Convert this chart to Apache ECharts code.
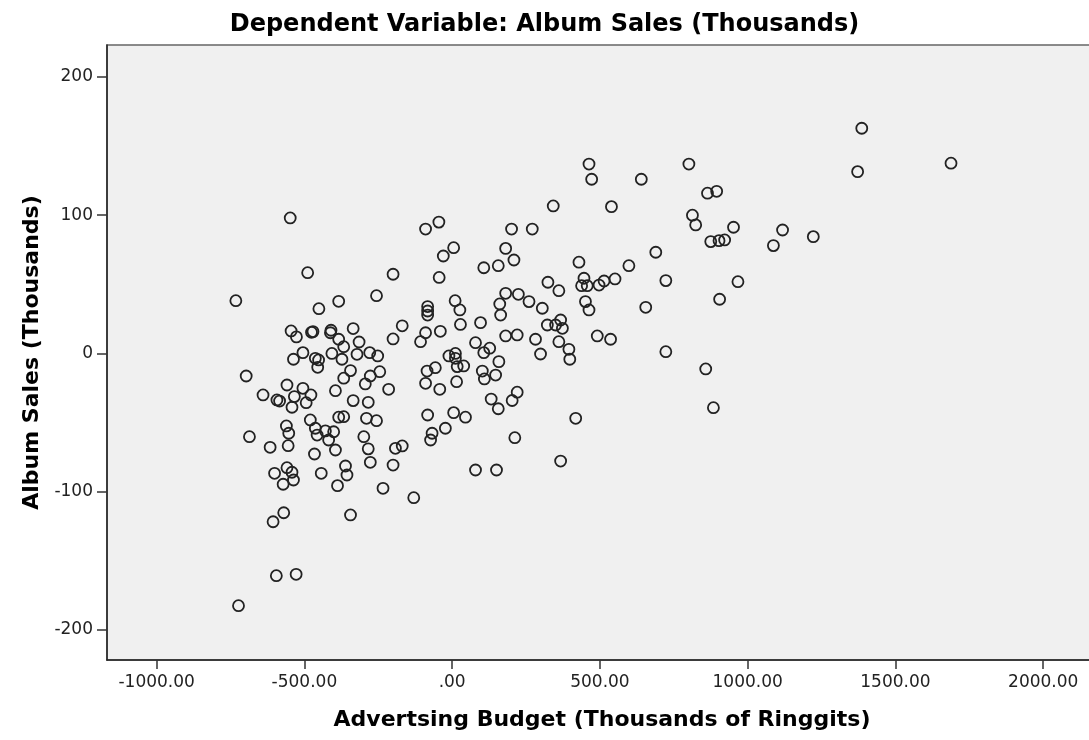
<!DOCTYPE html>
<html>
<head>
<meta charset="utf-8">
<script src="https://cdn.jsdelivr.net/npm/echarts@6/dist/echarts.min.js"></script>
<style>
  html, body { margin: 0; padding: 0; background: #ffffff; }
  #chart { width: 1089px; height: 740px; }
</style>
</head>
<body>
<div id="chart"></div>
<script>
// Advertising budget (thousands of ringgits) for each case
const budget = [
  -548, -90, -45, 5, -30, -489, -200, -44, -732, -256, -384, -451, -83, -83, -83,
  10, 26, 28, -169, -40, -90, -107, -200, -335, -410, -412, -384, -367, -315, -545,
  -527, -476, -471, -505, -537, -463, -452, -455, -407, -373, -322, -279, -252,
  96, 161, 164, 260, 305, 451, 463, 322, 350, 367, 373, 491, 536, 361, 395, 398,
  282, 299, 181, 220, 79, 107, 127, 158, 102, 147, 109, 132, 156, 203, 220,
  11, 11, -11, 17, 39, 15, -85, -57, -90, -42, -83, 5, 45, 418,
  -344, -367, -277, -245, -294, -215, -697, -640, -593, -584, -559, -505, -534, -478,
  -494, -542, -395, -335, -284, -384, -367, -290, -256, -480, -561,
  -686, -616, -553, -555, -463, -457, -429, -401, -418, -395, -466, -299, -284, -277,
  -192, -169, -200, -601, -559, -542, -537, -572, -443, -361, -356, -388, -234, -130,
  -570, -606, -344, -595, -528, -723, -68, -73, -23, 79, 150,
  463, 472, 640, 801, 342, 539, 864, 895, 813, 824, 875, 903, 201, 271, 181, 209,
  107, 156, 429, 598, 689, 723, 905, 655, 324, 361, 446, 438, 457, 497, 514, 551,
  181, 224, 723,
  212, 367, 858, 884,
  1386, 1372, 1688, 952, 922, 1118, 1087, 1222, 967
];

// Album sales (thousands) for the same cases
const sales = [
  98, 90, 95, 76.5, 70.5, 58.4, 57.3, 55, 38.2, 41.8, 37.7, 32.4, 33.9, 30.7, 27.8,
  38.2, 31.5, 21, 20, 16, 15, 8.5, 10.5, 18, 16.8, 15, 10.3, 4.9, 8.3, 16.3,
  12, 15.3, 15.8, 0.6, -4.2, -3.5, -4.7, -10, 0, -4.2, -0.6, 0.6, -1.8,
  22.3, 35.8, 27.8, 37.5, 32.7, 37.5, 31.5, 20.6, 20.6, 24.2, 18.2, 12.7, 10.3, 8.5, 3, -4.2,
  10.3, -0.4, 12.7, 13.4, 7.8, 0.6, 3.8, -5.9, -12.7, -15.6, -18.4, -33, -40, -34, -28,
  0, -3.5, -1.8, -9.5, -9, -20.4, -12.7, -10.3, -21.6, -25.9, -44.5, -42.8, -46.1, -46.9,
  -12.4, -17.9, -16.3, -13.2, -22, -25.9, -16.3, -30, -33.6, -34.4, -22.8, -25.2, -31.2, -30,
  -35.6, -38.9, -26.9, -34.1, -35.3, -46.1, -45.7, -46.9, -48.6, -48.1, -52.4,
  -60.2, -67.9, -57.7, -66.7, -54.1, -59, -56, -56.6, -62.6, -69.8, -72.7, -60.2, -69, -78.7,
  -68.6, -66.9, -80.7, -86.7, -82.6, -85.9, -91.5, -94.6, -86.7, -81.4, -87.9, -95.6, -97.5, -104.3,
  -115.2, -121.7, -116.8, -160.7, -159.7, -182.4, -57.7, -62.6, -54.1, -84.3, -84.3,
  137, 126, 126, 137, 106.7, 106.2, 115.9, 117.3, 100, 93, 80.9, 81.6, 90, 90, 76, 67.6,
  62, 63.5, 66, 63.5, 73.2, 52.7, 39.2, 33.4, 51.5, 45.4, 54.4, 49, 49, 49.5, 52.4, 53.9,
  43.5, 42.8, 1.3,
  -60.9, -77.8, -11.2, -39.2,
  162.9, 131.5, 137.6, 91.3, 82.1, 89.3, 78, 84.5, 51.9
];

const xTickValues = [-1000, -500, 0, 500, 1000, 1500, 2000];
const xTickLabels = ['-1000.00', '-500.00', '.00', '500.00', '1000.00', '1500.00', '2000.00'];
const yTickValues = [-200, -100, 0, 100, 200];
const yTickLabels = ['-200', '-100', '0', '100', '200'];

const chartTitle = 'Dependent Variable: Album Sales (Thousands)';
const xName = 'Advertsing Budget (Thousands of Ringgits)';
const yName = 'Album Sales (Thousands)';

const points = budget.map((x, i) => [x, sales[i]]);

function labelFor(values, labels) {
  return function (v) {
    const i = values.indexOf(v);
    return i >= 0 ? labels[i] : '';
  };
}

const tickFont = { fontFamily: 'DejaVu Sans', fontSize: 17, color: '#222' };
const nameFont = { fontFamily: 'DejaVu Sans', fontWeight: 'bold', fontSize: 22, color: '#000' };

const chart = echarts.init(document.getElementById('chart'), null, { renderer: 'canvas' });
chart.setOption({
  animation: false,
  backgroundColor: '#ffffff',
  title: {
    text: chartTitle,
    left: 'center',
    top: 8,
    textStyle: { fontFamily: 'DejaVu Sans', fontWeight: 'bold', fontSize: 24, color: '#000' }
  },
  // plot panel runs off the right edge of the page
  grid: {
    left: 107,
    top: 45,
    width: 990,
    height: 615,
    containLabel: false,
    outerBoundsMode: 'none',
    show: true,
    backgroundColor: '#f0f0f0',
    borderColor: '#666',
    borderWidth: 1.5
  },
  xAxis: {
    type: 'value',
    min: -1168,
    max: 2182,
    name: xName,
    nameLocation: 'middle',
    nameGap: 49,
    nameTextStyle: nameFont,
    splitLine: { show: false },
    axisLine: { show: true, onZero: false, lineStyle: { color: '#222', width: 1.5 } },
    axisTick: { show: true, customValues: xTickValues, length: 9, lineStyle: { color: '#333', width: 1.5 } },
    axisLabel: Object.assign({ customValues: xTickValues, margin: 14, formatter: labelFor(xTickValues, xTickLabels) }, tickFont)
  },
  yAxis: {
    type: 'value',
    min: -221.7,
    max: 223.1,
    name: yName,
    nameLocation: 'middle',
    nameGap: 64,
    nameTextStyle: nameFont,
    splitLine: { show: false },
    axisLine: { show: true, onZero: false, lineStyle: { color: '#222', width: 1.5 } },
    axisTick: { show: true, customValues: yTickValues, length: 10, lineStyle: { color: '#333', width: 1.5 } },
    axisLabel: Object.assign({ customValues: yTickValues, margin: 14, formatter: labelFor(yTickValues, yTickLabels) }, tickFont)
  },
  series: [{
    type: 'scatter',
    data: points,
    symbol: 'circle',
    symbolSize: 11,
    silent: true,
    itemStyle: { color: 'rgba(0,0,0,0)', borderColor: '#222', borderWidth: 1.8, opacity: 1 }
  }]
});
</script>
</body>
</html>
